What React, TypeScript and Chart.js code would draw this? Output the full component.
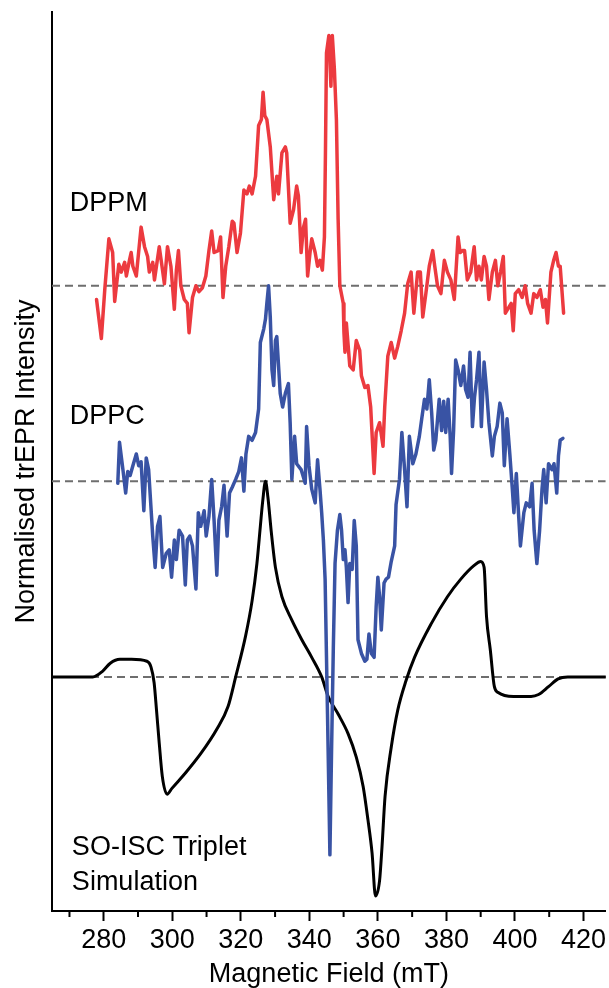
import React, { useEffect, useRef } from "react";
import { Chart, registerables } from "chart.js";

Chart.register(...registerables);

// ---- Data (field in mT, normalised intensity; traces offset by 1 unit) ----
const dppmField = [277.9, 279.3, 280.3, 281.5, 282.6, 283.2, 284.4, 285.1, 286.1, 286.6, 287.5, 288.0, 288.5, 289.5, 290.9, 291.9, 292.8, 293.3, 294.3, 294.8, 296.2, 297.0, 297.7, 298.6, 299.6, 300.6, 301.2, 301.8, 302.5, 303.5, 304.4, 304.9, 305.9, 306.9, 307.8, 308.8, 309.8, 310.7, 311.5, 312.2, 313.4, 314.1, 314.8, 315.6, 316.5, 317.5, 318.0, 318.9, 319.9, 320.9, 321.8, 322.5, 323.3, 324.3, 325.2, 326.0, 326.5, 327.0, 327.6, 328.6, 329.6, 330.5, 331.0, 332.0, 333.0, 333.4, 334.4, 335.4, 336.3, 336.8, 337.6, 338.3, 338.9, 339.5, 340.2, 340.7, 341.7, 342.4, 343.1, 343.8, 344.4, 344.7, 345.0, 345.7, 346.3, 346.7, 347.3, 347.9, 348.4, 348.9, 349.9, 350.1, 350.4, 350.8, 351.8, 352.8, 353.7, 354.7, 355.2, 356.2, 357.1, 357.9, 358.9, 359.5, 360.5, 361.5, 362.0, 362.9, 363.9, 364.9, 365.8, 366.8, 367.8, 368.7, 369.7, 370.5, 371.6, 372.4, 373.1, 374.0, 375.0, 376.0, 376.6, 377.4, 378.4, 379.4, 380.3, 381.3, 382.3, 383.4, 384.0, 384.7, 385.3, 386.1, 387.1, 388.1, 388.8, 389.5, 390.2, 391.0, 391.7, 392.4, 393.4, 394.3, 395.0, 395.8, 396.6, 397.2, 398.2, 398.9, 399.5, 400.1, 401.1, 402.1, 403.0, 403.7, 404.7, 405.5, 406.4, 407.4, 408.2, 408.9, 409.5, 410.5, 411.3, 412.0, 412.7, 413.2, 414.2];
const dppmIntensity = [-0.07, -0.27, -0.02, 0.24, 0.17, -0.08, 0.11, 0.07, 0.12, 0.05, 0.13, 0.17, 0.10, 0.05, 0.30, 0.20, 0.15, 0.07, 0.12, 0.03, 0.20, 0.10, 0.01, 0.20, 0.10, -0.12, 0.08, 0.18, 0.00, -0.07, -0.09, -0.24, -0.06, 0.00, -0.03, -0.01, 0.05, 0.18, 0.28, 0.17, 0.18, 0.25, -0.06, 0.10, 0.20, 0.33, 0.32, 0.17, 0.27, 0.49, 0.47, 0.51, 0.47, 0.56, 0.82, 0.85, 0.99, 0.87, 0.85, 0.71, 0.44, 0.56, 0.47, 0.68, 0.71, 0.68, 0.32, 0.39, 0.51, 0.46, 0.17, 0.30, 0.34, 0.05, 0.17, 0.24, 0.17, 0.10, 0.13, 0.08, 0.25, 0.68, 1.19, 1.28, 1.02, 1.28, 1.11, 0.85, 0.34, 0.00, -0.09, -0.24, -0.34, -0.19, -0.41, -0.43, -0.28, -0.33, -0.46, -0.52, -0.51, -0.62, -0.96, -0.75, -0.70, -0.82, -0.62, -0.36, -0.29, -0.37, -0.31, -0.23, -0.14, 0.01, 0.07, -0.14, 0.07, 0.07, -0.16, -0.04, 0.10, 0.18, 0.10, 0.00, -0.04, 0.13, 0.07, 0.03, -0.07, 0.25, 0.17, 0.18, 0.18, 0.03, 0.07, 0.20, 0.03, 0.10, 0.03, 0.15, 0.10, -0.07, 0.07, 0.13, 0.00, 0.07, 0.15, -0.14, -0.11, -0.09, -0.23, -0.04, -0.02, -0.06, 0.00, -0.09, -0.14, -0.04, -0.06, -0.02, -0.11, -0.07, -0.19, 0.07, 0.13, 0.17, 0.10, 0.10, -0.14];

const dppcField = [284.1, 284.6, 285.6, 286.4, 287.0, 287.7, 288.5, 289.5, 290.2, 290.9, 291.7, 292.4, 293.1, 294.3, 295.0, 295.7, 296.4, 297.2, 298.2, 299.1, 299.8, 300.6, 301.2, 302.0, 303.0, 303.8, 304.4, 305.1, 305.9, 306.9, 307.6, 308.3, 309.3, 309.9, 310.7, 311.5, 312.2, 313.0, 313.6, 314.4, 315.1, 316.0, 316.7, 317.5, 318.5, 319.4, 320.2, 320.9, 321.5, 322.3, 323.3, 324.3, 325.2, 325.7, 326.7, 327.2, 327.6, 328.1, 328.6, 329.1, 329.6, 330.1, 330.5, 331.5, 332.2, 333.0, 333.9, 334.4, 334.9, 335.7, 336.3, 337.6, 338.8, 339.2, 339.9, 340.7, 341.7, 342.4, 343.1, 343.6, 344.1, 344.6, 345.3, 345.8, 346.0, 346.5, 347.0, 347.5, 348.2, 348.9, 349.4, 349.9, 350.4, 350.8, 351.3, 351.8, 352.5, 353.1, 353.7, 354.2, 355.2, 356.2, 356.8, 357.4, 358.1, 358.9, 359.5, 360.0, 360.5, 361.0, 361.8, 362.4, 363.1, 363.9, 364.9, 365.3, 366.3, 367.0, 367.8, 368.5, 369.2, 370.2, 371.1, 372.1, 372.8, 373.6, 374.3, 375.0, 375.7, 376.3, 376.9, 377.9, 378.6, 379.2, 379.8, 380.5, 381.1, 381.5, 382.1, 382.7, 383.4, 384.2, 385.0, 385.6, 386.3, 386.9, 387.6, 388.2, 388.8, 389.5, 390.2, 391.0, 391.7, 392.4, 393.4, 394.0, 394.8, 395.6, 396.3, 396.9, 397.7, 398.5, 399.2, 399.7, 400.4, 401.1, 401.6, 402.6, 403.3, 404.3, 405.0, 405.6, 406.4, 407.2, 407.9, 408.4, 409.1, 409.8, 410.8, 411.4, 412.2, 412.7, 413.2, 414.0];
const dppcIntensity = [-0.01, 0.20, 0.06, -0.06, 0.05, 0.03, 0.08, 0.14, 0.08, 0.10, -0.15, 0.12, 0.06, -0.28, -0.44, -0.23, -0.18, -0.44, -0.37, -0.35, -0.49, -0.30, -0.40, -0.25, -0.28, -0.53, -0.30, -0.28, -0.33, -0.55, -0.16, -0.23, -0.15, -0.28, -0.18, 0.01, -0.20, -0.48, -0.20, -0.13, -0.02, -0.28, -0.06, -0.03, 0.01, 0.05, 0.12, -0.05, 0.14, 0.23, 0.21, 0.25, 0.37, 0.71, 0.78, 0.83, 0.91, 1.00, 0.84, 0.57, 0.49, 0.72, 0.74, 0.45, 0.38, 0.45, 0.50, 0.30, 0.01, 0.23, 0.09, 0.06, -0.01, 0.28, 0.08, -0.04, -0.11, 0.11, -0.04, -0.16, -0.30, -0.50, -1.19, -1.70, -1.91, -1.36, -0.85, -0.42, -0.25, -0.17, -0.25, -0.40, -0.35, -0.44, -0.62, -0.42, -0.45, -0.20, -0.33, -0.81, -0.88, -0.92, -0.91, -0.78, -0.88, -0.90, -0.64, -0.49, -0.59, -0.76, -0.52, -0.50, -0.49, -0.41, -0.33, -0.12, 0.01, 0.25, 0.06, -0.13, 0.23, 0.09, 0.14, 0.23, 0.32, 0.42, 0.37, 0.52, 0.35, 0.16, 0.21, 0.42, 0.26, 0.41, 0.25, 0.42, 0.23, 0.04, 0.26, 0.62, 0.57, 0.49, 0.59, 0.47, 0.43, 0.66, 0.28, 0.43, 0.52, 0.66, 0.28, 0.61, 0.47, 0.30, 0.13, 0.23, 0.28, 0.40, 0.35, 0.08, 0.32, 0.14, -0.03, -0.16, 0.04, -0.18, -0.33, -0.16, -0.11, -0.13, -0.01, -0.25, -0.42, -0.25, -0.04, 0.06, -0.11, 0.09, 0.06, 0.09, -0.06, 0.13, 0.21, 0.22];

const simField = [264.9, 276.8, 279.7, 281.9, 284.7, 288.1, 292.6, 293.8, 294.7, 295.4, 296.2, 297.1, 298.5, 299.9, 303.9, 308.4, 312.9, 316.3, 318.5, 321.4, 323.3, 324.7, 325.7, 326.4, 327.2, 327.9, 328.9, 330.1, 332.0, 334.9, 337.8, 340.7, 343.6, 345.5, 348.4, 351.3, 353.7, 355.7, 357.1, 358.3, 359.3, 360.5, 361.2, 362.1, 363.9, 365.8, 368.2, 370.7, 375.5, 380.3, 384.2, 388.1, 390.0, 391.0, 391.7, 392.8, 394.0, 395.1, 399.6, 404.7, 406.9, 409.8, 412.6, 415.4, 430.0];
const simIntensity = [0, 0, 0.03, 0.07, 0.09, 0.09, 0.08, 0.05, -0.03, -0.17, -0.34, -0.51, -0.6, -0.57, -0.49, -0.39, -0.27, -0.15, 0, 0.21, 0.39, 0.58, 0.77, 0.9, 1.0, 0.92, 0.74, 0.56, 0.41, 0.29, 0.19, 0.1, 0, -0.1, -0.19, -0.29, -0.41, -0.56, -0.73, -0.9, -1.12, -1.04, -0.87, -0.61, -0.36, -0.17, -0.02, 0.1, 0.27, 0.41, 0.5, 0.57, 0.59, 0.56, 0.31, 0.14, -0.05, -0.08, -0.1, -0.1, -0.09, -0.05, -0.01, 0, 0];

const traceOffsets = [2, 1, 0]; // DPPM, DPPC, simulation
const traceNames = ["DPPM", "DPPC", "SO-ISC Triplet Simulation"];
const traceColors = ["#ec3a3f", "#3953a4", "#000000"];
const traceWidths = [3.5, 3.5, 3];

const majorTicks = [280, 300, 320, 340, 360, 380, 400, 420];
const minorTicks = [270, 290, 310, 330, 350, 370, 390, 410];

const labelTexts = ["DPPM", "DPPC", "SO-ISC Triplet", "Simulation"];
const labelField = [270.1, 270.1, 270.7, 270.7];
const labelLevel = [2.42, 1.33, -0.87, -1.05];

const X_MIN = 264.9;
const X_MAX = 426.5;
const Y_MIN = -1.197;
const Y_MAX = 3.40;

const FONT = '"Liberation Sans", Arial, sans-serif';

const extras = {
  id: "extras",
  afterDraw(chart: any) {
    const { ctx, chartArea } = chart;
    const x = chart.scales.x;
    const y = chart.scales.y;
    ctx.save();
    ctx.strokeStyle = "#000";
    ctx.lineWidth = 2;
    minorTicks.forEach((v) => {
      const px = x.getPixelForValue(v);
      ctx.beginPath();
      ctx.moveTo(px, chartArea.bottom);
      ctx.lineTo(px, chartArea.bottom + 6);
      ctx.stroke();
    });
    ctx.fillStyle = "#000";
    ctx.font = `27px ${FONT}`;
    ctx.textBaseline = "middle";
    ctx.textAlign = "left";
    labelTexts.forEach((t, i) => {
      ctx.fillText(t, x.getPixelForValue(labelField[i]), y.getPixelForValue(labelLevel[i]));
    });
    ctx.restore();
  },
};

export default function App() {
  const ref = useRef<HTMLCanvasElement | null>(null);

  useEffect(() => {
    if (!ref.current) return;
    const fields = [dppmField, dppcField, simField];
    const values = [dppmIntensity, dppcIntensity, simIntensity];
    const traces = fields.map((f, k) => ({
      label: traceNames[k],
      data: f.map((xv, i) => ({ x: xv, y: values[k][i] + traceOffsets[k] })),
      borderColor: traceColors[k],
      borderWidth: traceWidths[k],
      pointRadius: 0,
      tension: 0,
      cubicInterpolationMode: k === 2 ? "monotone" : "default",
      borderJoinStyle: "round",
      borderCapStyle: "round",
      fill: false,
    }));
    const baselines = traceOffsets.map((o) => ({
      label: "baseline " + o,
      data: [
        { x: X_MIN, y: o },
        { x: X_MAX, y: o },
      ],
      borderColor: "#6e6e6e",
      borderWidth: 2,
      borderDash: [8, 5],
      pointRadius: 0,
      fill: false,
    }));

    const chart = new Chart(ref.current, {
      type: "line",
      data: { datasets: [...traces, ...baselines] as any },
      options: {
        animation: false,
        responsive: false,
        layout: { padding: { top: 12, right: 0, left: 0, bottom: 0 }, autoPadding: false } as any,
        plugins: { legend: { display: false }, tooltip: { enabled: false } },
        scales: {
          x: {
            type: "linear",
            min: X_MIN,
            max: X_MAX,
            afterBuildTicks: (s: any) => {
              s.ticks = majorTicks.map((v) => ({ value: v }));
            },
            afterFit: (s: any) => {
              s.height = 77;
            },
            grid: { drawOnChartArea: false, drawTicks: true, tickLength: 10, tickWidth: 2, tickColor: "#000" },
            border: { display: true, color: "#000", width: 2 },
            ticks: {
              autoSkip: false,
              maxRotation: 0,
              padding: 3,
              color: "#000",
              font: { family: FONT, size: 27 },
              callback: (v: any) => String(v),
            },
            title: {
              display: true,
              text: "Magnetic Field (mT)",
              color: "#000",
              font: { family: FONT, size: 27, lineHeight: 1.0 },
              padding: { top: 0, bottom: 0 },
            },
          },
          y: {
            type: "linear",
            min: Y_MIN,
            max: Y_MAX,
            afterFit: (s: any) => {
              s.width = 52;
            },
            grid: { display: false, drawTicks: false },
            border: { display: true, color: "#000", width: 2 },
            ticks: { display: false },
            title: {
              display: true,
              text: "Normalised trEPR Intensity",
              color: "#000",
              font: { family: FONT, size: 27, lineHeight: 1.2 },
              padding: { top: 10, bottom: 0 },
            },
          },
        },
      },
      plugins: [extras],
    });
    return () => chart.destroy();
  }, []);

  return (
    <div style={{ position: "absolute", left: 0, top: 0, width: 609, height: 988, background: "#fff" }}>
      <canvas ref={ref} width={609} height={988} style={{ display: "block" }} />
    </div>
  );
}
